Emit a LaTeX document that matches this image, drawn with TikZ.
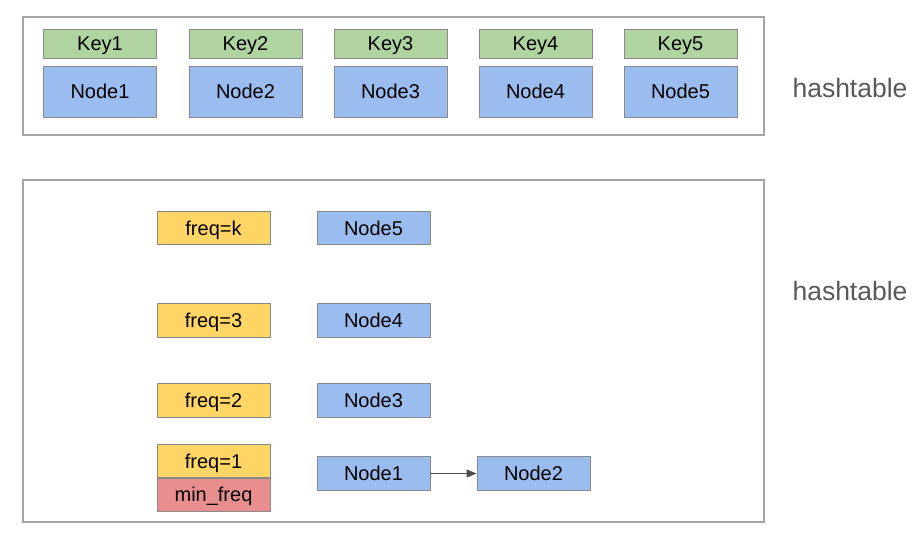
\documentclass[tikz,border=0pt]{standalone}
\usepackage{fontspec}
\setmainfont{Liberation Sans}
\usetikzlibrary{arrows.meta}
\definecolor{keyg}{HTML}{B0D4A0}
\definecolor{nodeb}{HTML}{9BBCEE}
\definecolor{freqy}{HTML}{FFD666}
\definecolor{minr}{HTML}{E88E8E}
\definecolor{edgeg}{HTML}{8A8A8A}
\definecolor{frameg}{HTML}{A6A6A6}
\definecolor{labg}{HTML}{595959}
\begin{document}
\begin{tikzpicture}[x=1pt,y=-1pt,
  cell/.style={draw=edgeg,line width=0.9pt,minimum width=113pt,inner sep=0pt,font=\fontsize{20}{22}\selectfont,text=black,text height=14.3pt,text depth=0pt},
  keybox/.style={cell,fill=keyg,minimum height=29pt},
  nbox/.style={cell,fill=nodeb,minimum height=51pt},
  lnode/.style={cell,fill=nodeb,minimum height=33.5pt},
  fbox/.style={cell,fill=freqy,minimum height=33.5pt},
  mbox/.style={cell,fill=minr,minimum height=33pt},
  frame/.style={draw=frameg,line width=1.4pt},
  lab/.style={font=\fontsize{26.5}{30}\selectfont,text=labg,inner sep=0pt},
  link/.style={draw=black!70,line width=0.9pt,-{Triangle[length=10pt,width=8pt]}}]
\useasboundingbox (0,0) rectangle (919,537);
\draw[frame] (23,17) rectangle (764,135);
\draw[frame] (23,180) rectangle (764,522);
\foreach \i/\x in {1/100,2/245.5,3/390.5,4/535.5,5/680.5}{
  \node[keybox] (k\i) at (\x,43.5) {Key\i};
  \node[nbox] (n\i) at (\x,91.5) {Node\i};
}
\node[lab] (h1) at (850,88) {hashtable};
\node[lab] (h2) at (850,291) {hashtable};
\node[fbox] (fk) at (213.5,228) {freq=k};
\node[fbox] (f3) at (213.5,320.5) {freq=3};
\node[fbox] (f2) at (213.5,400.5) {freq=2};
\node[fbox] (f1) at (213.5,461) {freq=1};
\node[mbox] (mf) at (213.5,494.5) {min\_freq};
\node[lnode] (b5) at (373.5,228) {Node5};
\node[lnode] (b4) at (373.5,320.5) {Node4};
\node[lnode] (b3) at (373.5,400.5) {Node3};
\node[lnode] (b1) at (373.5,473.5) {Node1};
\node[lnode] (b2) at (533.5,473.5) {Node2};
\draw[link] (b1) -- (b2);
\end{tikzpicture}
\end{document}
